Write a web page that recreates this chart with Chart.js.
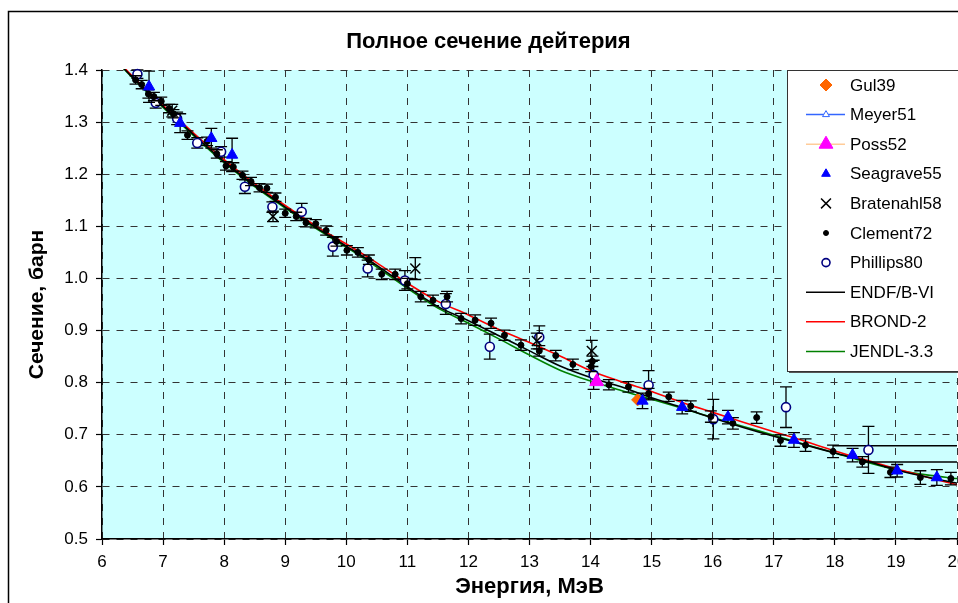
<!DOCTYPE html>
<html lang="ru">
<head>
<meta charset="utf-8">
<title>Полное сечение дейтерия</title>
<script src="https://cdn.jsdelivr.net/npm/chart.js@4.4.1/dist/chart.umd.min.js"></script>
<style>
  html, body { margin: 0; padding: 0; background: #fff; overflow: hidden; }
  #wrap { position: relative; width: 958px; height: 603px; overflow: hidden; }
  #xs { position: absolute; left: 0; top: 0; }
</style>
</head>
<body>
<div id="wrap"><canvas id="xs" width="975" height="615"></canvas></div>
<script>
/* ---------- данные: полное сечение n+d, барн ---------- */
const gulE = [14.77], gulS = [0.767];
const possE = [14.10], possS = [0.802];

const seagraveE   = [6.77, 7.28, 7.79, 8.13, 14.85, 15.50, 16.25, 17.33, 18.29, 19.02, 19.67];
const seagraveS   = [1.368, 1.298, 1.269, 1.237, 0.765, 0.753, 0.734, 0.690, 0.661, 0.631, 0.618];
const seagraveErr = [0.030, 0.018, 0.019, 0.032, 0.015, 0.013, 0.013, 0.014, 0.013, 0.012, 0.015];

const bratenahlE   = [7.15, 8.80, 11.13, 13.12, 14.02];
const bratenahlS   = [1.322, 1.119, 1.019, 0.880, 0.861];
const bratenahlErr = [0.012, 0.010, 0.021, 0.015, 0.020];

const clementE = [6.55, 6.65, 6.76, 6.85, 6.97, 7.10, 7.17, 7.40, 7.72, 7.88, 8.03, 8.15, 8.30, 8.44, 8.58,
  8.70, 8.84, 9.00, 9.18, 9.34, 9.50, 9.67, 9.84, 10.01, 10.19, 10.37, 10.58, 10.80, 11.00, 11.22, 11.42,
  11.65, 11.88, 12.11, 12.37, 12.59, 12.86, 13.16, 13.43, 13.71, 14.01, 14.03, 14.30, 14.62, 14.95, 15.28,
  15.64, 15.97, 16.33, 16.72, 17.11, 17.52, 17.97, 18.45, 18.91, 19.40, 19.90];
const clementS = [1.381, 1.372, 1.354, 1.349, 1.340, 1.326, 1.316, 1.275, 1.263, 1.239, 1.216, 1.214, 1.198, 1.186, 1.174,
  1.173, 1.156, 1.125, 1.119, 1.107, 1.105, 1.092, 1.071, 1.054, 1.050, 1.036, 1.008, 1.008, 0.990, 0.965, 0.958,
  0.965, 0.923, 0.920, 0.914, 0.891, 0.872, 0.861, 0.852, 0.835, 0.831, 0.841, 0.796, 0.792, 0.779, 0.773,
  0.755, 0.735, 0.722, 0.733, 0.689, 0.680, 0.668, 0.648, 0.628, 0.618, 0.616];
const clementErr = [0.008, 0.008, 0.008, 0.008, 0.008, 0.008, 0.008, 0.008, 0.008, 0.008, 0.008, 0.008, 0.008, 0.008, 0.008,
  0.008, 0.008, 0.008, 0.008, 0.008, 0.008, 0.009, 0.009, 0.009, 0.009, 0.009, 0.010, 0.010, 0.010, 0.010, 0.010,
  0.010, 0.010, 0.010, 0.010, 0.010, 0.010, 0.010, 0.010, 0.010, 0.010, 0.010, 0.010, 0.010, 0.010, 0.009,
  0.010, 0.011, 0.011, 0.011, 0.011, 0.012, 0.012, 0.010, 0.010, 0.013, 0.012];

const phillipsE   = [6.58, 6.88, 7.23, 7.56, 7.95, 8.34, 8.79, 9.27, 9.78, 10.35, 10.96, 11.63, 12.35, 13.16, 14.05, 14.95, 16.01, 17.20, 18.55];
const phillipsS   = [1.392, 1.337, 1.307, 1.260, 1.243, 1.176, 1.137, 1.128, 1.061, 1.019, 0.996, 0.951, 0.869, 0.887, 0.815, 0.795, 0.730, 0.753, 0.671];
const phillipsErr = [0.008, 0.010, 0.012, 0.010, 0.010, 0.013, 0.010, 0.016, 0.018, 0.016, 0.019, 0.020, 0.024, 0.022, 0.028, 0.028, 0.038, 0.039, 0.045];

// оценённые данные
const curveE = [6.2, 6.5, 7, 7.5, 8, 8.5, 9, 9.5, 10, 10.5, 11, 11.5, 12, 12.5, 13, 13.5, 14, 14.5, 15, 15.5, 16, 16.5, 17, 17.5, 18, 18.5, 19, 19.5, 20];
const endfS  = [1.422, 1.386, 1.330, 1.276, 1.224, 1.178, 1.137, 1.098, 1.062, 1.025, 0.984, 0.946, 0.919, 0.890, 0.861, 0.832, 0.810, 0.792, 0.771, 0.752, 0.732, 0.714, 0.697, 0.681, 0.665, 0.650, 0.633, 0.619, 0.607];
const brondS = [1.425, 1.388, 1.332, 1.279, 1.228, 1.182, 1.140, 1.101, 1.066, 1.030, 0.991, 0.956, 0.930, 0.902, 0.877, 0.851, 0.823, 0.802, 0.783, 0.762, 0.743, 0.724, 0.706, 0.688, 0.669, 0.652, 0.635, 0.619, 0.604];
const jendlS = [1.422, 1.385, 1.328, 1.274, 1.222, 1.176, 1.135, 1.096, 1.060, 1.022, 0.981, 0.943, 0.914, 0.884, 0.853, 0.824, 0.803, 0.785, 0.768, 0.751, 0.733, 0.716, 0.699, 0.682, 0.665, 0.648, 0.633, 0.623, 0.616];

// горизонтальные отрезки справа (уходят за 20 МэВ)
const tailAE = [17.97, 21], tailAS = [0.679, 0.679];
const tailBE = [18.41, 21], tailBS = [0.648, 0.648];

const xTicks = { min: 6, max: 20, step: 1 };
const yTicks = { min: 0.5, max: 1.4, step: 0.1 };

/* ---------- helpers ---------- */
const pts = (xs, ys) => xs.map((x, i) => ({ x, y: ys[i] }));
Chart.defaults.font.family = "'Liberation Sans', Arial, sans-serif";
Chart.defaults.color = "#000";

// планки погрешностей — рисуются под маркерами своего набора
const errorBars = {
  id: "errorBars",
  beforeDatasetDraw(chart, args) {
    const ds = chart.data.datasets[args.index];
    if (!ds.errors) return;
    const ys = chart.scales.y, ctx = chart.ctx;
    ctx.save();
    ctx.strokeStyle = "#000";
    ctx.lineWidth = 1.3;
    ds.data.forEach((p, i) => {
      const e = ds.errors[i];
      if (!e) return;
      const x = args.meta.data[i].x;
      const y1 = ys.getPixelForValue(p.y + e), y2 = ys.getPixelForValue(p.y - e);
      ctx.beginPath();
      ctx.moveTo(x, y1); ctx.lineTo(x, y2);
      ctx.moveTo(x - 6, y1); ctx.lineTo(x + 6, y1);
      ctx.moveTo(x - 6, y2); ctx.lineTo(x + 6, y2);
      ctx.stroke();
    });
    ctx.restore();
  },
};

// фон и рамка
const paper = {
  id: "paper",
  beforeDraw(chart) {
    const { ctx, chartArea: a } = chart;
    ctx.save();
    ctx.fillStyle = "#fff";
    ctx.fillRect(0, 0, chart.width, chart.height);
    ctx.fillStyle = "#CCFFFF";
    ctx.fillRect(a.left, a.top, a.right - a.left, a.bottom - a.top);
    ctx.restore();
  },
  afterDraw(chart) {
    const ctx = chart.ctx;
    ctx.save();
    ctx.strokeStyle = "#000";
    ctx.lineWidth = 1.5;
    ctx.strokeRect(8.5, 11.5, 2000, 2000);
    ctx.restore();
  },
};

// легенда в рамке поверх области построения
const boxLegend = {
  id: "boxLegend",
  afterDraw(chart) {
    const { ctx, chartArea: a } = chart;
    const left = a.right - 170, top = a.top, rowH = 29.6, bottom = top + 301;
    ctx.save();
    ctx.fillStyle = "#555";
    ctx.fillRect(left + 2, top + 2, 400, bottom - top);
    ctx.fillStyle = "#fff";
    ctx.fillRect(left, top, 400, bottom - top);
    ctx.strokeStyle = "#333";
    ctx.lineWidth = 1;
    ctx.strokeRect(left + 0.5, top + 0.5, 400, bottom - top);

    ctx.font = "17px 'Liberation Sans', Arial, sans-serif";
    ctx.textBaseline = "middle";
    chart.data.datasets.filter(d => !d.noLegend).forEach((d, i) => {
      const y = top + 15 + i * rowH, mx = left + 39;
      const line = d.legendLine || (d.showLine ? d.borderColor : null);
      if (line) {
        ctx.strokeStyle = line;
        ctx.lineWidth = 1.5;
        ctx.beginPath();
        ctx.moveTo(left + 19, y); ctx.lineTo(left + 58, y);
        ctx.stroke();
      }
      if (d.pointRadius > 0 || d.legendRadius) {
        ctx.fillStyle = d.backgroundColor;
        ctx.strokeStyle = d.borderColor;
        ctx.lineWidth = d.pointBorderWidth || 1;
        Chart.helpers.drawPoint(ctx, {
          pointStyle: d.pointStyle, radius: d.legendRadius || d.pointRadius,
          borderWidth: d.pointBorderWidth || 1, rotation: 0,
        }, mx, y);
      }
      ctx.fillStyle = "#000";
      ctx.fillText(d.label, left + 63, y + 1);
    });
    ctx.restore();
  },
};

const marker = (label, xs, ys, style, extra) => Object.assign({
  label, data: pts(xs, ys), showLine: false, pointStyle: style,
  pointHoverRadius: 0, clip: 2,
}, extra);
const curve = (label, ys, color) => ({
  label, data: pts(curveE, ys), showLine: true, borderColor: color, backgroundColor: color,
  borderWidth: 1.6, pointRadius: 0, tension: 0.3, order: 10, clip: 1,
});

new Chart(document.getElementById("xs"), {
  type: "scatter",
  data: {
    datasets: [
      marker("Gul39", gulE, gulS, "rectRot", { pointRadius: 6, backgroundColor: "#FF6600", borderColor: "#FF6600", pointBorderWidth: 1, order: 2 }),
      marker("Meyer51", [], [], "triangle", { pointRadius: 4, backgroundColor: "#fff", borderColor: "#3366FF", pointBorderWidth: 1, legendLine: "#3366FF" }),
      marker("Poss52", possE, possS, "triangle", { pointRadius: 8, backgroundColor: "#FF00FF", borderColor: "#FF00FF", pointBorderWidth: 1, legendLine: "#FFCC99" }),
      marker("Seagrave55", seagraveE, seagraveS, "triangle", { pointRadius: 6.5, legendRadius: 5, backgroundColor: "#0000FF", borderColor: "#0000FF", pointBorderWidth: 1, errors: seagraveErr }),
      marker("Bratenahl58", bratenahlE, bratenahlS, "crossRot", { pointRadius: 7, backgroundColor: "#000", borderColor: "#000", pointBorderWidth: 1.5, errors: bratenahlErr }),
      marker("Clement72", clementE, clementS, "circle", { pointRadius: 3, legendRadius: 2.5, backgroundColor: "#000", borderColor: "#000", pointBorderWidth: 1, errors: clementErr }),
      marker("Phillips80", phillipsE, phillipsS, "circle", { pointRadius: 4.5, legendRadius: 4, backgroundColor: "#fff", borderColor: "#000080", pointBorderWidth: 1.6, errors: phillipsErr }),
      curve("ENDF/B-VI", endfS, "#000000"),
      curve("BROND-2", brondS, "#FF0000"),
      curve("JENDL-3.3", jendlS, "#008000"),
      { label: "", noLegend: true, data: pts(tailAE, tailAS), showLine: true, borderColor: "#000", borderWidth: 1.5, pointRadius: 0, order: 9, clip: 0 },
      { label: "", noLegend: true, data: pts(tailBE, tailBS), showLine: true, borderColor: "#000", borderWidth: 1.5, pointRadius: 0, order: 9, clip: 0 },
    ],
  },
  options: {
    responsive: false,
    devicePixelRatio: 1,
    animation: false,
    events: [],
    layout: { padding: { left: 20, right: 18, top: 20, bottom: 0 } },
    plugins: {
      legend: { display: false },
      tooltip: { enabled: false },
      title: {
        display: true, text: "Полное сечение дейтерия", color: "#000",
        font: { size: 22, weight: "bold" }, padding: { top: 9, bottom: 14.6 },
      },
    },
    scales: {
      x: {
        type: "linear", min: xTicks.min, max: xTicks.max,
        afterFit: (s) => { s.height = 76; },
        ticks: { stepSize: xTicks.step, font: { size: 17 }, color: "#000", padding: 7, maxRotation: 0 },
        grid: { color: "#333", lineWidth: 1, tickLength: 6, tickColor: "#000", tickWidth: 1.2 },
        border: { display: true, color: "#000", width: 1.5, dash: [7, 7] },
        title: { display: true, text: "Энергия, МэВ", font: { size: 22, weight: "bold" }, color: "#000", padding: { top: 0, bottom: 15 } },
      },
      y: {
        type: "linear", min: yTicks.min, max: yTicks.max,
        afterFit: (s) => { s.width = 82; },
        ticks: { stepSize: yTicks.step, font: { size: 17 }, color: "#000", padding: 8, callback: (v) => v.toFixed(1) },
        grid: { color: "#333", lineWidth: 1, tickLength: 6, tickColor: "#000", tickWidth: 1.2 },
        border: { display: true, color: "#000", width: 1.5, dash: [7, 7] },
        title: { display: true, text: "Сечение, барн", font: { size: 21, weight: "bold" }, color: "#000", padding: { top: 5, bottom: 0 } },
      },
    },
  },
  plugins: [paper, errorBars, boxLegend],
});
</script>
</body>
</html>
